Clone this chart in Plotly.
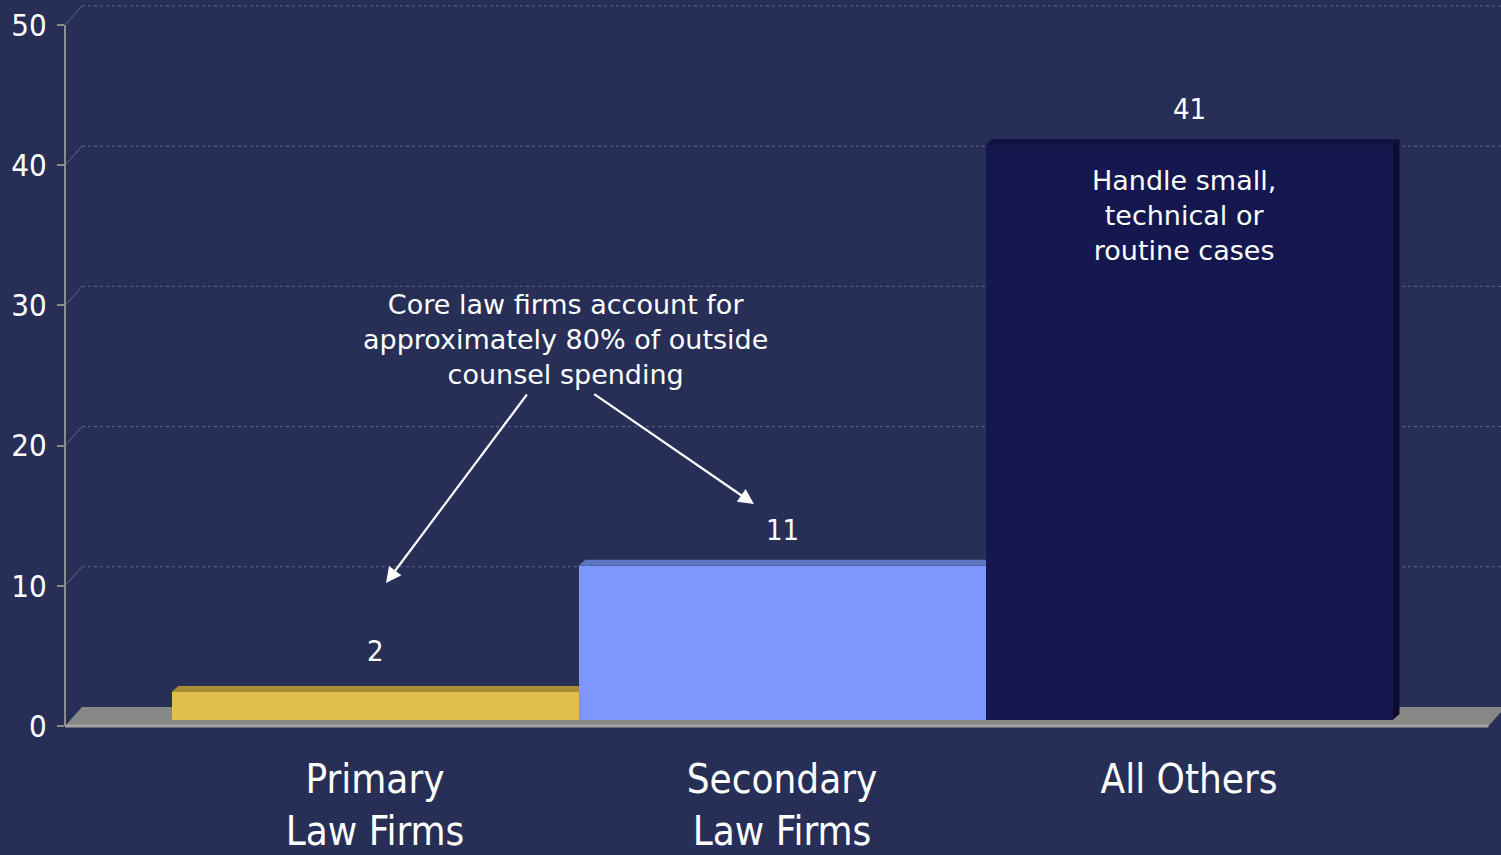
import plotly.graph_objects as go

# ---------------- data ----------------
categories = ["Primary<br>Law Firms", "Secondary<br>Law Firms", "All Others"]
values = [2, 11, 41]
bar_colors = ["#E1BE4D", "#7C98FF", "#15184F"]
top_colors = ["#A98E37", "#5F77C3", "#10133F"]
side_colors = ["#8A7430", "#4E63A8", "#0B0D2E"]
y_ticks = [0, 10, 20, 30, 40, 50]

# ---------------- geometry / style ----------------
W, H = 1501, 855
ML, MR, MT, MB = 65, 0, 0, 115
X_RANGE = [-0.7617, 2.7666]
Y_RANGE = [-0.9986, 51.78]
BG = "#272F57"
FONT = "DejaVu Sans Condensed, Tahoma, Noto Sans, sans-serif"
FONT_WIDE = "DejaVu Sans, Tahoma, Noto Sans, sans-serif"

plot_w = W - ML - MR
plot_h = H - MT - MB
px_x = plot_w / (X_RANGE[1] - X_RANGE[0])   # pixels per category unit
px_y = plot_h / (Y_RANGE[1] - Y_RANGE[0])   # pixels per value unit


def dx(p):
    return p / px_x


def dy(p):
    return p / px_y


WALL_DX, WALL_DY = dx(17), dy(19)
BAR_DX, BAR_DY = dx(7), dy(6)
BAR_BASE = dy(6)
BAR_W = 1.0

fig = go.Figure()
fig.add_trace(go.Bar(
    x=list(range(len(values))), y=values, base=BAR_BASE, width=BAR_W,
    marker=dict(color=bar_colors, line=dict(width=0)),
    hoverinfo="skip", showlegend=False,
))

shapes = []
# floor
front_right = len(values) - 1 + 0.5 + dx(96)
shapes.append(dict(
    type="path", layer="below", xref="x", yref="y",
    path=f"M {X_RANGE[0]},0 L {front_right},0 L {front_right + WALL_DX},{WALL_DY} "
         f"L {X_RANGE[0] + WALL_DX},{WALL_DY} Z",
    fillcolor="#878787", line=dict(width=0),
))
shapes.append(dict(
    type="line", layer="below", xref="x", yref="y",
    x0=X_RANGE[0], x1=front_right, y0=0, y1=0,
    line=dict(color="#A3A3A3", width=3),
))
# back-wall gridlines
for v in y_ticks[1:]:
    shapes.append(dict(type="line", layer="below", xref="x", yref="y",
                       x0=X_RANGE[0], y0=v, x1=X_RANGE[0] + WALL_DX, y1=v + WALL_DY,
                       line=dict(color="#5E6588", width=1)))
    shapes.append(dict(type="line", layer="below", xref="x", yref="y",
                       x0=X_RANGE[0] + WALL_DX, y0=v + WALL_DY, x1=X_RANGE[1] + 1, y1=v + WALL_DY,
                       line=dict(color="#5E6588", width=1, dash="dot")))
# 3D faces of bars
for i, v in enumerate(values):
    xl, xr = i - BAR_W / 2, i + BAR_W / 2
    top = BAR_BASE + v
    shapes.append(dict(
        type="path", layer="below", xref="x", yref="y",
        path=f"M {xr},{BAR_BASE} L {xr},{top} L {xr + BAR_DX},{top + BAR_DY} "
             f"L {xr + BAR_DX},{BAR_BASE + BAR_DY} Z",
        fillcolor=side_colors[i], line=dict(width=0),
    ))
    shapes.append(dict(
        type="path", layer="below", xref="x", yref="y",
        path=f"M {xl},{top} L {xr},{top} L {xr + BAR_DX},{top + BAR_DY} "
             f"L {xl + BAR_DX},{top + BAR_DY} Z",
        fillcolor=top_colors[i], line=dict(width=0),
    ))
# y axis line
shapes.append(dict(type="line", xref="paper", yref="y", x0=0, x1=0, y0=0, y1=y_ticks[-1],
                   line=dict(color="#8C8C8C", width=2)))

annotations = []
for i, v in enumerate(values):
    annotations.append(dict(x=i, y=BAR_BASE + v, xref="x", yref="y", text=str(v),
                            showarrow=False, yshift=36 if v > 5 else 41,
                            font=dict(family=FONT, size=29, color="white")))
annotations.append(dict(
    x=0.467, y=27.6, xref="x", yref="y",
    text="Core law firms account for<br>approximately 80% of outside<br>counsel spending",
    showarrow=False, font=dict(family=FONT_WIDE, size=27, color="white"),
))
annotations.append(dict(
    x=1.988, y=36.4, xref="x", yref="y",
    text="Handle small,<br>technical or<br>routine cases",
    showarrow=False, font=dict(family=FONT_WIDE, size=27, color="white"),
))
for (hx, hy, tx, ty) in [(0.027, 10.2, 0.376, 23.75), (0.931, 15.83, 0.535, 23.75)]:
    annotations.append(dict(
        x=hx, y=hy, ax=tx, ay=ty, xref="x", yref="y", axref="x", ayref="y",
        text="", showarrow=True, arrowhead=2, arrowsize=1.4, arrowwidth=2.2,
        arrowcolor="white", standoff=0,
    ))

fig.update_layout(
    width=W, height=H,
    margin=dict(l=ML, r=MR, t=MT, b=MB),
    paper_bgcolor=BG, plot_bgcolor=BG,
    shapes=shapes, annotations=annotations,
    bargap=0, showlegend=False,
    xaxis=dict(range=X_RANGE, tickmode="array", tickvals=list(range(len(categories))),
               ticktext=categories, showgrid=False, zeroline=False, showline=False,
               ticks="", ticklabelstandoff=12, automargin=False,
               tickfont=dict(family=FONT, size=40, color="white"), fixedrange=True),
    yaxis=dict(range=Y_RANGE, tickmode="array", tickvals=y_ticks,
               ticktext=[str(t) for t in y_ticks], showgrid=False, zeroline=False,
               showline=False, ticks="outside", ticklen=7, tickwidth=2, tickcolor="#8C8C8C",
               ticklabelstandoff=4, automargin=False,
               tickfont=dict(family=FONT, size=31, color="white"), fixedrange=True),
)

fig.write_html("out.html")
